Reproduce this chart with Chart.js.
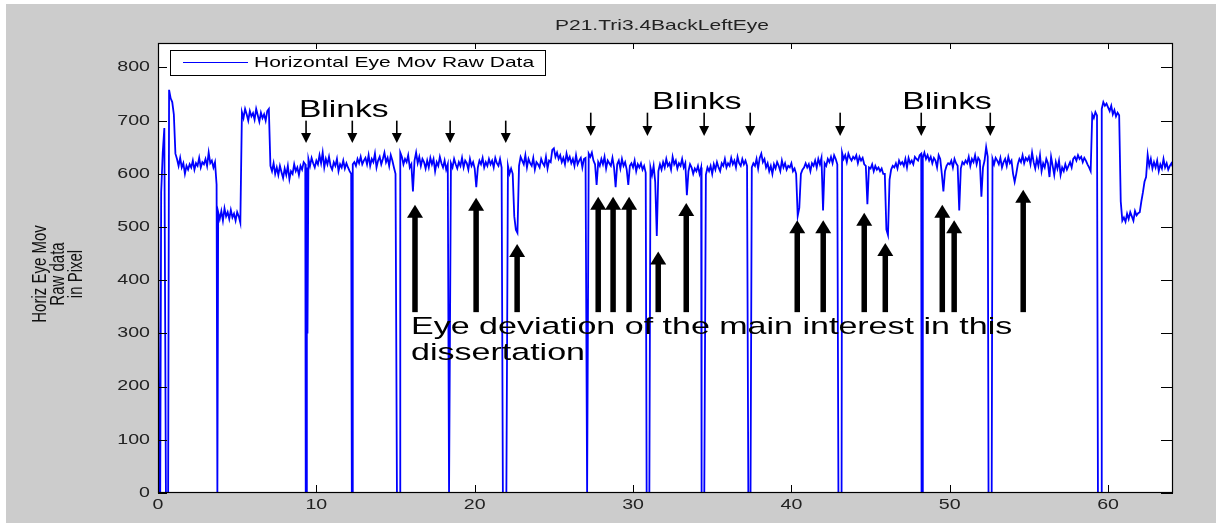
<!DOCTYPE html>
<html>
<head>
<meta charset="utf-8">
<title>P21.Tri3.4BackLeftEye</title>
<script src="https://cdn.jsdelivr.net/npm/chart.js@4/dist/chart.umd.min.js"></script>
<style>
  html, body { margin: 0; padding: 0; background: #ffffff; }
  canvas { display: block; }
</style>
</head>
<body>
<canvas id="eyeChart" width="1217" height="523"></canvas>
<script>
// ---- data ----------------------------------------------------------------
const chartTitle = 'P21.Tri3.4BackLeftEye';
const seriesLabel = 'Horizontal Eye Mov Raw Data';
const yAxisLines = ['Horiz Eye Mov', 'Raw data', 'in Pixel'];

const xTicks = [0, 10, 20, 30, 40, 50, 60];
const yTicks = [0, 100, 200, 300, 400, 500, 600, 700, 800];

// horizontal eye position, one sample every 0.1 s starting at 0
const sampleStep = 0.1;
const traceValues = [
  628, 600, 565, 640, 686, 660, 700, 758, 742, 735,
  712, 638, 628, 615, 630, 612, 620, 600, 615, 608,
  618, 612, 625, 608, 620, 615, 630, 612, 622, 618,
  628, 615, 640, 620, 625, 612, 622, 580, 528, 515,
  530, 512, 535, 520, 528, 515, 532, 518, 525, 512,
  528, 520, 508, 716, 705, 722, 712, 700, 718, 708,
  714, 702, 722, 710, 698, 715, 705, 712, 700, 718,
  722, 615, 605, 620, 600, 612, 598, 615, 603, 592,
  610, 598, 615, 590, 605, 600, 618, 605, 612, 598,
  615, 608, 622, 618, 612, 628, 615, 630, 620, 612,
  625, 618, 635, 620, 640, 612, 628, 618, 632, 615,
  608, 622, 615, 628, 605, 618, 612, 625, 610, 620,
  612, 605, 600, 618, 622, 615, 628, 620, 632, 618,
  625, 630, 618, 635, 615, 628, 622, 638, 612, 625,
  632, 618, 628, 640, 622, 630, 615, 635, 625, 612,
  600, 612, 625, 640, 632, 618, 628, 622, 635, 612,
  618, 567, 625, 640, 620, 632, 615, 628, 622, 610,
  625, 612, 630, 618, 628, 605, 622, 615, 632, 620,
  612, 625, 608, 618, 595, 620, 612, 628, 618, 610,
  622, 615, 630, 612, 625, 620, 608, 628, 615, 622,
  610, 575, 612, 625, 618, 630, 612, 622, 615, 628,
  618, 625, 612, 630, 620, 615, 628, 612, 620, 598,
  605, 615, 600, 610, 600, 520, 495, 489, 615, 632,
  625, 618, 635, 612, 628, 620, 615, 630, 608, 622,
  618, 612, 628, 620, 615, 632, 610, 625, 622, 645,
  648, 632, 640, 628, 635, 622, 630, 618, 638, 625,
  632, 620, 628, 615, 635, 618, 625, 630, 612, 628,
  630, 645, 638, 632, 640, 625, 618, 579, 622, 615,
  628, 618, 632, 610, 625, 620, 615, 630, 612, 575,
  618, 625, 610, 628, 615, 622, 608, 579, 615, 620,
  612, 625, 605, 618, 612, 620, 608, 615, 602, 610,
  605, 612, 598, 615, 585, 483, 605, 618, 608, 622,
  612, 628, 615, 620, 608, 632, 618, 625, 610, 620,
  615, 628, 612, 620, 560, 605, 618, 612, 600, 610,
  605, 615, 600, 612, 608, 610, 598, 612, 605, 615,
  600, 618, 608, 622, 612, 605, 620, 615, 628, 612,
  620, 615, 630, 618, 625, 612, 632, 620, 615, 628,
  618, 625, 615, 600, 590, 612, 620, 615, 628, 610,
  630, 638, 622, 628, 612, 620, 605, 615, 600, 618,
  610, 622, 615, 605, 625, 612, 620, 608, 615, 612,
  620, 605, 610, 600, 521, 536, 600, 608, 612, 620,
  612, 618, 605, 620, 615, 625, 612, 628, 618, 630,
  531, 620, 615, 628, 622, 632, 620, 635, 628, 618,
  625, 630, 640, 628, 635, 622, 638, 630, 625, 632,
  628, 635, 620, 632, 625, 630, 618, 615, 543, 612,
  610, 618, 605, 615, 608, 612, 605, 610, 600, 600,
  495, 485, 589, 608, 615, 612, 620, 610, 625, 618,
  622, 615, 628, 612, 630, 620, 625, 618, 632, 628,
  625, 635, 638, 630, 640, 628, 635, 625, 632, 620,
  630, 625, 612, 635, 628, 600, 567, 605, 615, 620,
  618, 625, 612, 628, 620, 615, 531, 610, 622, 618,
  625, 620, 632, 615, 628, 622, 635, 618, 630, 625,
  557, 612, 625, 650, 632, 612, 620, 628, 618, 630,
  625, 618, 630, 612, 622, 628, 615, 632, 620, 625,
  600, 585, 600, 618, 628, 622, 635, 620, 630, 625,
  632, 618, 640, 622, 610, 628, 615, 635, 605, 620,
  612, 628, 620, 594, 632, 615, 598, 622, 610, 625,
  598, 612, 605, 618, 608, 615, 622, 612, 628, 632,
  625, 635, 628, 632, 622, 630, 625, 618, 612, 605,
  712, 705, 716, 710, 720, 718, 722, 735, 728, 732,
  725, 718, 728, 712, 720, 708, 715, 710, 548, 512,
  518, 510, 525, 515, 528, 520, 512, 530, 522, 526,
  528, 548, 565, 585, 594, 636, 615, 628, 610, 622,
  612, 625, 605, 618, 610, 628, 612, 620, 608, 615,
  620, 612
];

// blinks: the tracker loses the pupil and the signal falls to the floor value
const blinkStart = [0.07, 0.50, 3.75, 9.33, 9.44, 12.24, 15.09, 18.38, 21.78, 27.10, 30.86, 34.33, 37.28, 42.97, 48.22, 52.45, 59.36];
const blinkEnd   = [0.14, 0.64, 3.78, 9.37, 9.46, 12.27, 15.29, 18.41, 22.00, 27.14, 31.03, 34.50, 37.42, 43.17, 48.26, 52.65, 59.58];
const blinkFloor = [0,    0,    0,    0,    300,  0,     0,     0,     0,     0,     0,     0,     0,     0,     0,     0,     0];

// annotation: small arrows marking the blinks
const blinkArrowX   = [9.35, 12.27, 15.08, 18.45, 21.96, 27.33, 30.91, 34.49, 37.40, 43.08, 48.20, 52.56];
const blinkArrowTop = [700, 700, 700, 700, 700, 715, 715, 715, 715, 715, 715, 715];
const blinkArrowTip = [658, 658, 658, 658, 658, 671, 671, 671, 671, 671, 671, 671];
const blinkLabelX = [8.9, 31.2, 47.0];
const blinkLabelY = [707, 722, 722];

// annotation: thick arrows marking the eye deviations
const deviationArrowX   = [16.23, 20.09, 22.68, 27.80, 28.74, 29.75, 31.59, 33.36, 40.37, 42.01, 44.60, 45.93, 49.53, 50.28, 54.64];
const deviationArrowTip = [542, 555, 468, 557, 557, 557, 454, 545, 513, 513, 527, 470, 542, 513, 570];
const deviationArrowBase = 340;
const deviationText = ['Eye deviation of the main interest in this', 'dissertation'];
const deviationTextX = 15.98;
const deviationTextY = [299, 250];

// ---- build the plotted series -------------------------------------------
const tracePoints = [];
traceValues.forEach((v, i) => {
  const t = +(i * sampleStep).toFixed(2);
  const inBlink = blinkStart.some((s, k) => t >= s && t <= blinkEnd[k]);
  if (!inBlink) tracePoints.push({ x: t, y: v });
});
blinkStart.forEach((s, k) => {
  tracePoints.push({ x: s, y: blinkFloor[k] });
  tracePoints.push({ x: blinkEnd[k], y: blinkFloor[k] });
});
tracePoints.sort((a, b) => a.x - b.x);

// ---- drawing helpers -----------------------------------------------------
const FONT = '"Liberation Sans", Arial, Helvetica, sans-serif';
const STRETCH = 1.4; // wide horizontal text aspect

function wideText(ctx, text, x, y, size, color, align, baseline, rotated) {
  ctx.save();
  ctx.translate(x, y);
  ctx.scale(STRETCH, 1);
  if (rotated) ctx.rotate(-Math.PI / 2);
  ctx.font = size + 'px ' + FONT;
  ctx.fillStyle = color;
  ctx.textAlign = align;
  ctx.textBaseline = baseline;
  ctx.fillText(text, 0, 0);
  ctx.restore();
}

function arrowDown(ctx, x, yTop, yTip, shaftW, headW, headH) {
  ctx.fillRect(x - shaftW / 2, yTop, shaftW, yTip - headH - yTop + 1);
  ctx.beginPath();
  ctx.moveTo(x - headW / 2, yTip - headH);
  ctx.lineTo(x + headW / 2, yTip - headH);
  ctx.lineTo(x, yTip);
  ctx.closePath();
  ctx.fill();
}

function arrowUp(ctx, x, yBase, yTip, shaftW, headW, headH) {
  ctx.fillRect(x - shaftW / 2, yTip + headH - 1, shaftW, yBase - yTip - headH + 1);
  ctx.beginPath();
  ctx.moveTo(x - headW / 2, yTip + headH);
  ctx.lineTo(x + headW / 2, yTip + headH);
  ctx.lineTo(x, yTip);
  ctx.closePath();
  ctx.fill();
}

const figurePlugin = {
  id: 'figureDecor',
  beforeDraw(chart) {
    const ctx = chart.ctx;
    const a = chart.chartArea;
    ctx.save();
    ctx.fillStyle = '#ffffff';
    ctx.fillRect(0, 0, chart.width, chart.height);
    ctx.fillStyle = '#cccccc';
    ctx.fillRect(6, 4, chart.width - 7, chart.height - 4);
    ctx.fillStyle = '#ffffff';
    ctx.fillRect(a.left, a.top, a.right - a.left, a.bottom - a.top);
    ctx.restore();
  },
  afterDraw(chart) {
    const ctx = chart.ctx;
    const a = chart.chartArea;
    const xs = chart.scales.x;
    const ys = chart.scales.y;
    ctx.save();

    // axes box with inward ticks
    ctx.strokeStyle = '#000000';
    ctx.lineWidth = 1.2;
    ctx.strokeRect(a.left + 0.5, a.top + 0.5, a.right - a.left - 1, a.bottom - a.top - 1);
    ctx.lineWidth = 1;
    ctx.beginPath();
    xTicks.forEach(v => {
      const px = Math.round(xs.getPixelForValue(v)) + 0.5;
      ctx.moveTo(px, a.bottom); ctx.lineTo(px, a.bottom - 8);
      ctx.moveTo(px, a.top); ctx.lineTo(px, a.top + 6);
    });
    yTicks.forEach(v => {
      const py = Math.round(ys.getPixelForValue(v)) + 0.5;
      ctx.moveTo(a.left, py); ctx.lineTo(a.left + 9, py);
      ctx.moveTo(a.right, py); ctx.lineTo(a.right - 12, py);
    });
    ctx.stroke();

    // tick labels
    xTicks.forEach(v => {
      wideText(ctx, String(v), xs.getPixelForValue(v), a.bottom + 12, 14, '#222222', 'center', 'middle');
    });
    yTicks.forEach(v => {
      wideText(ctx, String(v), a.left - 8, ys.getPixelForValue(v), 14, '#222222', 'right', 'middle');
    });

    // title and y-axis label
    wideText(ctx, chartTitle, 662, 30, 15, '#222222', 'center', 'alphabetic');
    yAxisLines.forEach((line, i) => {
      wideText(ctx, line, 40 + i * 18, 274, 15, '#111111', 'center', 'middle', true);
    });

    // legend
    const ds = chart.data.datasets[0];
    ctx.fillStyle = '#ffffff';
    ctx.fillRect(170.5, 50.5, 375, 25);
    ctx.strokeStyle = '#000000';
    ctx.lineWidth = 1;
    ctx.strokeRect(170.5, 50.5, 375, 25);
    ctx.strokeStyle = ds.borderColor;
    ctx.lineWidth = 1.2;
    ctx.beginPath();
    ctx.moveTo(183, 62.5); ctx.lineTo(248, 62.5);
    ctx.stroke();
    wideText(ctx, ds.label, 254, 63, 15, '#000000', 'left', 'middle');

    // blink annotations
    ctx.fillStyle = '#000000';
    blinkArrowX.forEach((v, i) => {
      arrowDown(ctx, xs.getPixelForValue(v), ys.getPixelForValue(blinkArrowTop[i]),
                ys.getPixelForValue(blinkArrowTip[i]), 1.6, 10, 10);
    });
    blinkLabelX.forEach((v, i) => {
      wideText(ctx, 'Blinks', xs.getPixelForValue(v), ys.getPixelForValue(blinkLabelY[i]), 24, '#000000', 'left', 'alphabetic');
    });

    // deviation annotations
    ctx.fillStyle = '#000000';
    const baseY = ys.getPixelForValue(deviationArrowBase);
    deviationArrowX.forEach((v, i) => {
      arrowUp(ctx, xs.getPixelForValue(v), baseY, ys.getPixelForValue(deviationArrowTip[i]), 5.5, 16, 13);
    });
    deviationText.forEach((line, i) => {
      wideText(ctx, line, xs.getPixelForValue(deviationTextX), ys.getPixelForValue(deviationTextY[i]), 24.3, '#000000', 'left', 'alphabetic');
    });

    ctx.restore();
  }
};

new Chart(document.getElementById('eyeChart'), {
  type: 'line',
  data: {
    datasets: [{
      label: seriesLabel,
      data: tracePoints,
      borderColor: '#0000ff',
      borderWidth: 1.8,
      pointRadius: 0,
      tension: 0,
      fill: false
    }]
  },
  options: {
    responsive: false,
    animation: false,
    parsing: false,
    normalized: true,
    layout: { padding: { left: 158, top: 43, right: 44, bottom: 30 } },
    plugins: {
      legend: { display: false },
      title: { display: false },
      tooltip: { enabled: false }
    },
    scales: {
      x: { type: 'linear', min: 0, max: 64.1, display: false },
      y: { type: 'linear', min: 0, max: 846, display: false }
    }
  },
  plugins: [figurePlugin]
});
</script>
</body>
</html>
